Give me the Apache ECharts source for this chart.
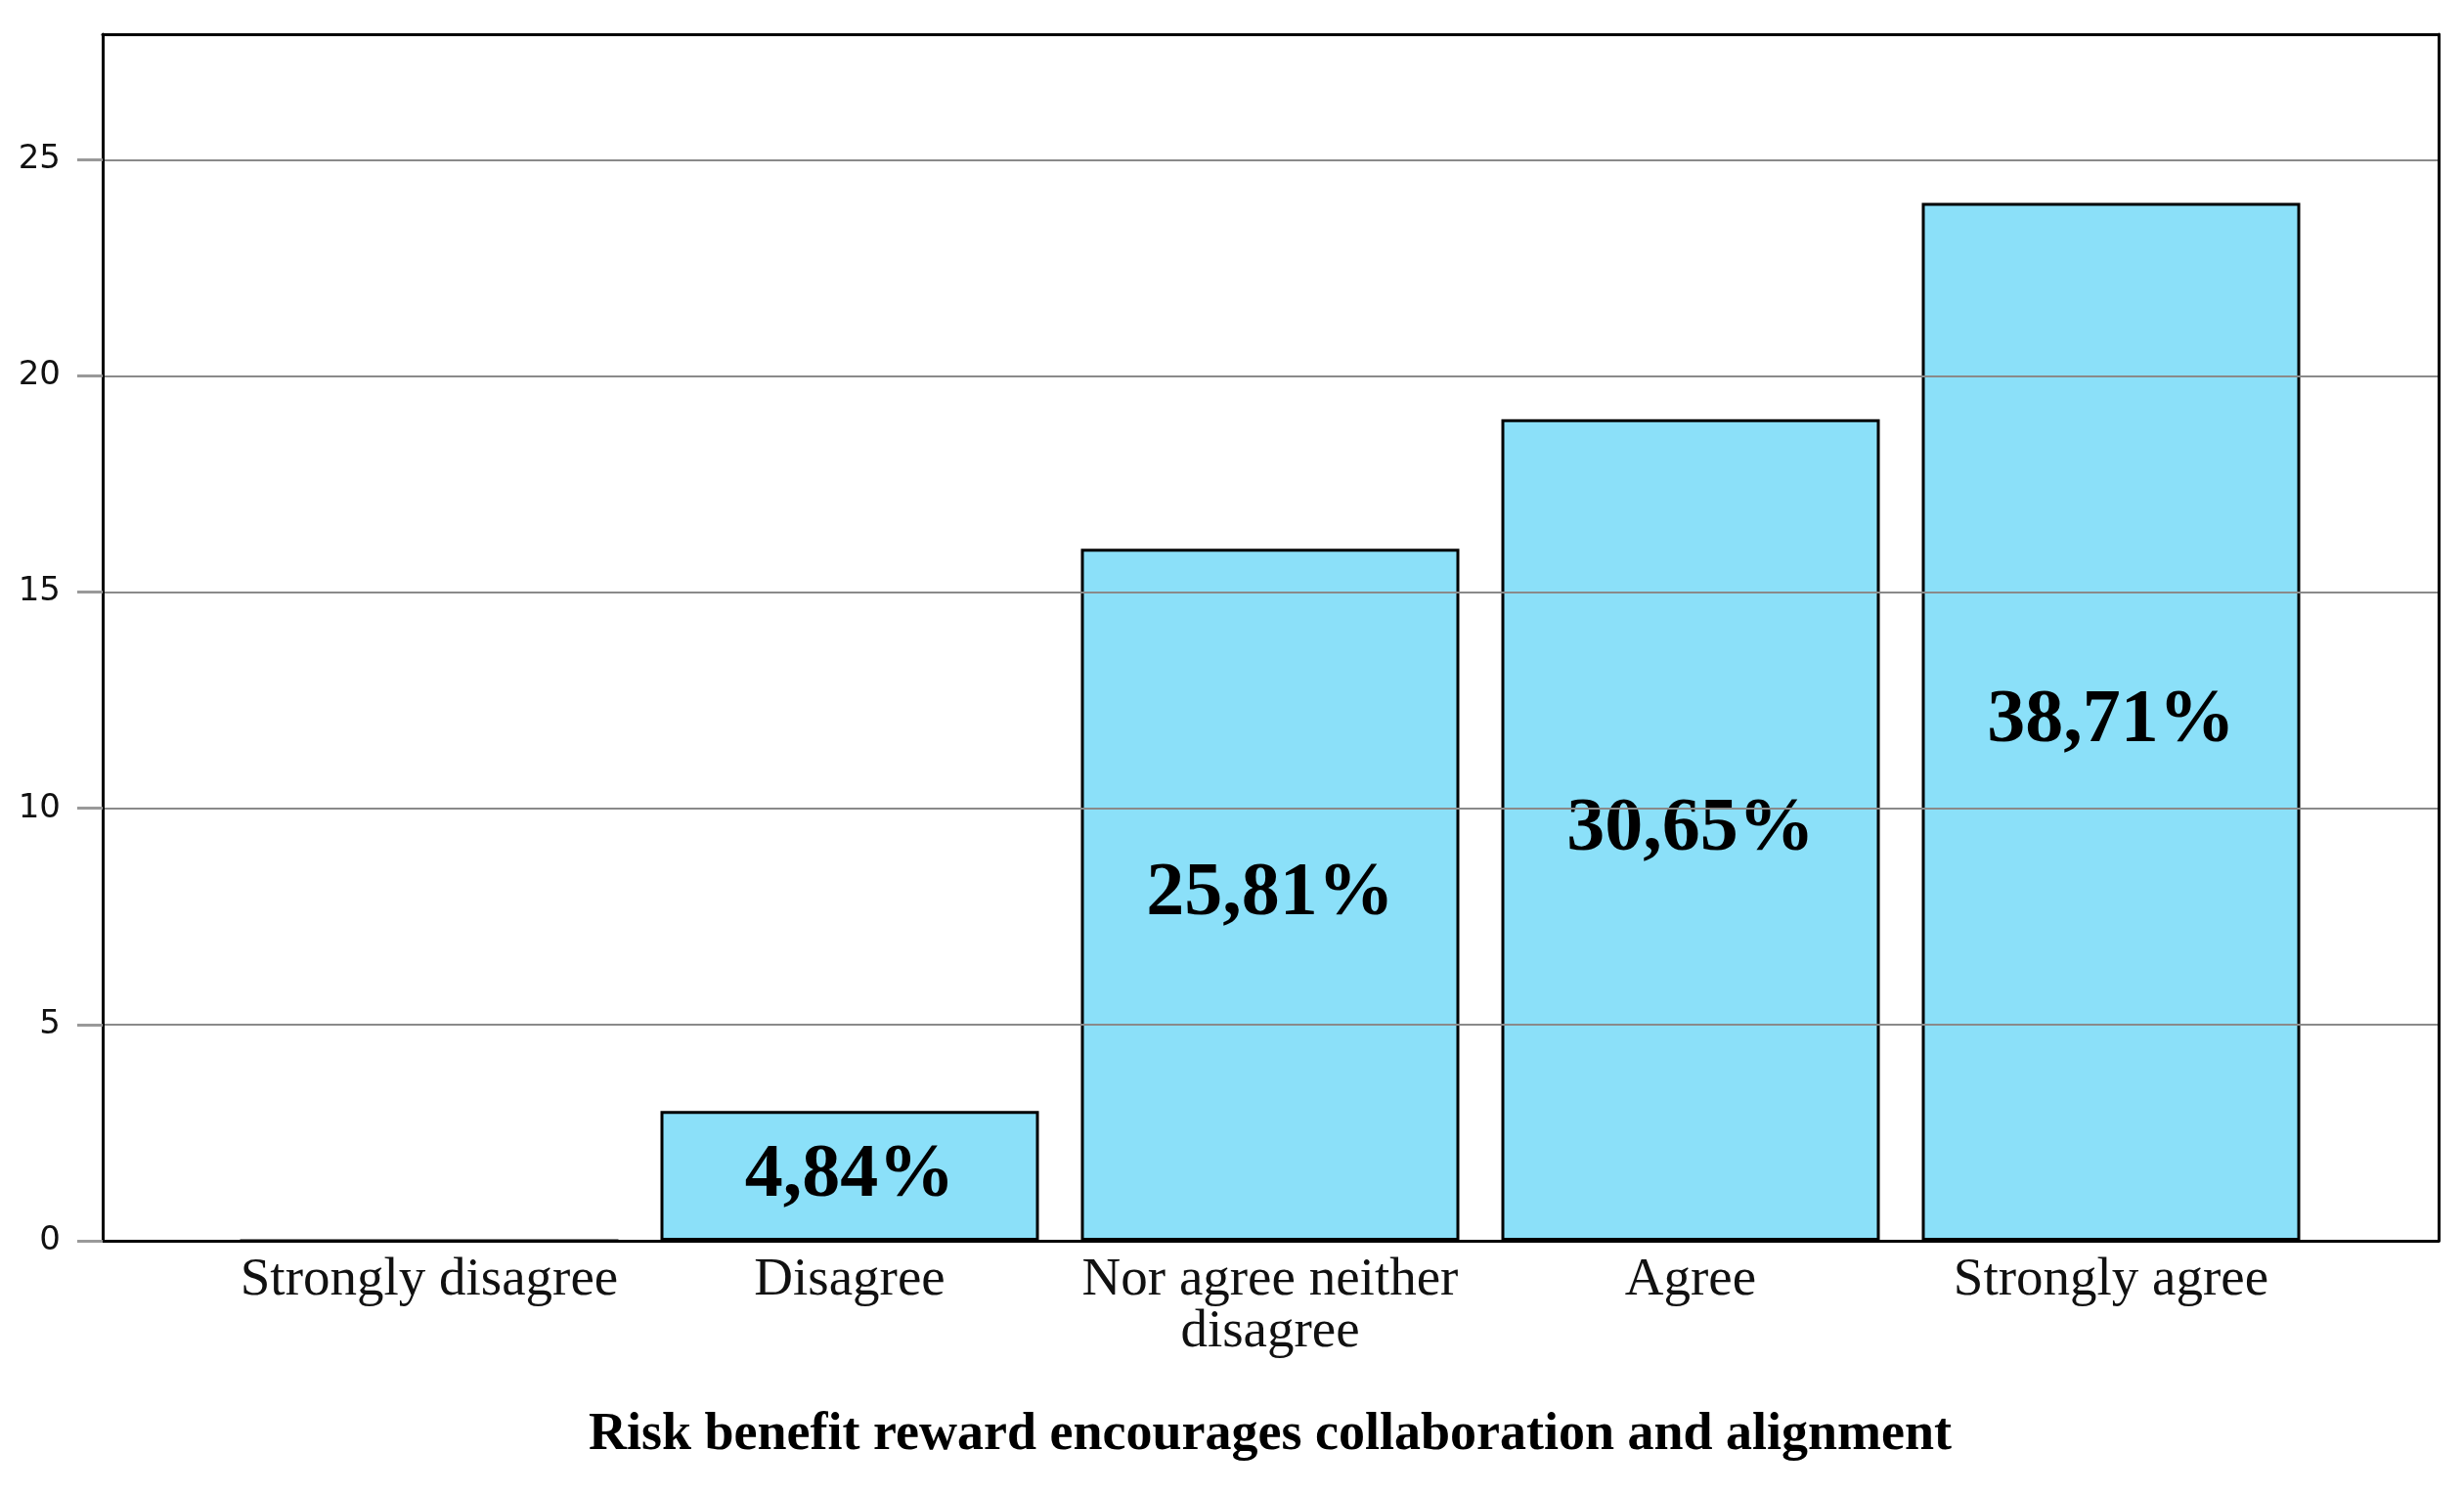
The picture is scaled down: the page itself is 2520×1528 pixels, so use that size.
<!DOCTYPE html>
<html>
<head>
<meta charset="utf-8">
<script src="https://cdn.jsdelivr.net/npm/echarts@6/dist/echarts.min.js"></script>
<style>
html,body{margin:0;padding:0;background:#fff;}
#chart{width:2520px;height:1528px;}
</style>
</head>
<body>
<div id="chart"></div>
<script>
const categories = ['Strongly disagree', 'Disagree', 'Nor agree neither\ndisagree', 'Agree', 'Strongly agree'];
const counts = [0, 3, 16, 19, 24];
const yTicks = [0, 5, 10, 15, 20, 25];
const yMax = 27.9;
const xTitle = 'Risk benefit reward encourages collaboration and alignment';

const total = counts.reduce((a, b) => a + b, 0);
const frameLine = {show: true, onZero: false, lineStyle: {color: '#000', width: 3}};

const chart = echarts.init(document.getElementById('chart'), null, {renderer: 'canvas'});
chart.setOption({
  animation: false,
  backgroundColor: '#ffffff',
  grid: [
    {left: 105, right: 26, top: 35, bottom: 259},
    {left: 224, right: 146, top: 35, bottom: 259}
  ],
  xAxis: [
    {gridIndex: 0, type: 'value', min: 0, max: 1, position: 'bottom', z: 5,
      axisLine: frameLine, axisTick: {show: false}, axisLabel: {show: false}, splitLine: {show: false}},
    {
      gridIndex: 1, type: 'category', data: categories,
      axisLine: {show: false}, axisTick: {show: false},
      axisLabel: {
        margin: 14, interval: 0, color: '#111',
        fontFamily: 'Liberation Serif', fontSize: 55, lineHeight: 53
      },
      name: xTitle, nameLocation: 'middle', nameGap: 172,
      nameTextStyle: {fontFamily: 'Liberation Serif', fontWeight: 'bold', fontSize: 54, lineHeight: 54, color: '#000'}
    },
    {gridIndex: 0, type: 'value', min: 0, max: 1, position: 'top', z: 5,
      axisLine: frameLine, axisTick: {show: false}, axisLabel: {show: false}, splitLine: {show: false}}
  ],
  yAxis: [
    {
      gridIndex: 0, type: 'value', min: 0, max: yMax, interval: 5, position: 'left', z: 5,
      axisLine: frameLine,
      axisTick: {show: true, inside: false, length: 26, customValues: yTicks, lineStyle: {color: '#999', width: 3}},
      axisLabel: {
        show: true, margin: 43, customValues: yTicks,
        fontFamily: 'DejaVu Sans', fontSize: 34, color: '#111'
      },
      splitLine: {show: true, lineStyle: {color: '#8a8a8a', width: 2}}
    },
    {gridIndex: 1, type: 'value', min: 0, max: yMax, show: false, splitLine: {show: false}},
    {gridIndex: 0, type: 'value', min: 0, max: yMax, position: 'right', z: 5,
      axisLine: frameLine, axisTick: {show: false}, axisLabel: {show: false}, splitLine: {show: false}}
  ],
  series: [{
    type: 'bar',
    xAxisIndex: 1, yAxisIndex: 1,
    data: counts,
    barWidth: '90%',
    itemStyle: {color: '#8be0f9', borderColor: '#000', borderWidth: 3},
    label: {
      show: true, position: 'inside',
      fontFamily: 'Liberation Serif', fontWeight: 'bold', fontSize: 78, color: '#000',
      formatter: p => p.value === 0 ? '' : (p.value / total * 100).toFixed(2).replace('.', ',') + '%'
    }
  }]
});
</script>
</body>
</html>
